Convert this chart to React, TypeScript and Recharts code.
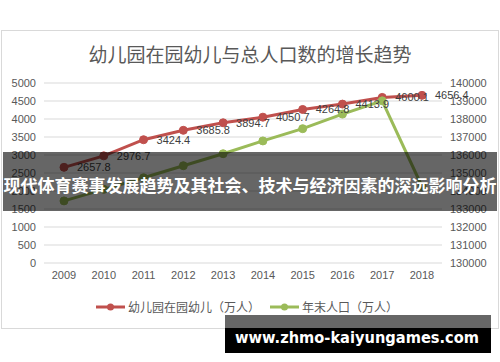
import React from 'react';
import { LineChart, Line, XAxis, YAxis, CartesianGrid, LabelList } from 'recharts';

const years = ['2009', '2010', '2011', '2012', '2013', '2014', '2015', '2016', '2017', '2018'];
const kindergarten = [2657.8, 2976.7, 3424.4, 3685.8, 3894.7, 4050.7, 4264.8, 4413.9, 4600.1, 4656.4];
const population = [133450, 134091, 134735, 135404, 136072, 136782, 137462, 138271, 139008, 134250];
const leftTicks = [0, 500, 1000, 1500, 2000, 2500, 3000, 3500, 4000, 4500, 5000];
const rightTicks = [130000, 131000, 132000, 133000, 134000, 135000, 136000, 137000, 138000, 139000, 140000];

const seriesNames = ['幼儿园在园幼儿（万人）', '年末人口（万人）'];
const seriesColors = ['#C0504D', '#9BBB59'];
const title = '幼儿园在园幼儿与总人口数的增长趋势';
const bannerText = '现代体育赛事发展趋势及其社会、技术与经济因素的深远影响分析';
const watermark = 'www.zhmo-kaiyungames.com';

const data = years.map((y, i) => ({ year: y, kg: kindergarten[i], pop: population[i] }));

const tickStyle = { fontSize: 11, fill: '#595959', fontFamily: '"Liberation Sans", Arial, sans-serif' };
const cjk = '"Noto Sans CJK SC", "Noto Sans", sans-serif';

const renderLabel = (props: any) => {
  const { x, y, value } = props;
  return (
    <text x={x + 13} y={y + 4} fontSize={11} fill="#404040" fontFamily='"Liberation Sans", Arial, sans-serif'>
      {Number(value).toFixed(1)}
    </text>
  );
};

const LegendMarker = ({ color }: { color: string }) => (
  <svg width={29} height={10} style={{ display: 'block' }}>
    <line x1={0} y1={5} x2={29} y2={5} stroke={color} strokeWidth={3} />
    <circle cx={14.5} cy={5} r={3.5} fill={color} />
  </svg>
);

export default function App() {
  return (
    <div style={{ position: 'absolute', left: 0, top: 0, width: 500, height: 362, background: '#fff', overflow: 'hidden' }}>
      <div
        style={{
          position: 'absolute', left: 1, top: 30, width: 498, height: 299,
          boxSizing: 'border-box', border: '1px solid #D9D9D9', background: '#fff',
        }}
      />
      <div
        style={{
          position: 'absolute', left: 0, top: 43.5, width: 500, textAlign: 'center',
          fontFamily: cjk, fontSize: 19, lineHeight: '19px', color: '#595959',
        }}
      >
        {title}
      </div>
      <div style={{ position: 'absolute', left: 0, top: 0 }}>
        <LineChart width={500} height={362} data={data} margin={{ top: 83, right: 0, bottom: 69, left: 0 }}>
          <CartesianGrid vertical={false} stroke="#D9D9D9" yAxisId="left" />
          <XAxis
            dataKey="year"
            axisLine={false}
            tickLine={false}
            interval={0}
            padding={{ left: 20, right: 20 }}
            tick={tickStyle}
            height={30}
          />
          <YAxis
            yAxisId="left"
            orientation="left"
            width={44}
            domain={[0, 5000]}
            ticks={leftTicks}
            axisLine={false}
            tickLine={false}
            tick={tickStyle}
            interval={0}
          />
          <YAxis
            yAxisId="right"
            orientation="right"
            width={58}
            domain={[130000, 140000]}
            ticks={rightTicks}
            axisLine={false}
            tickLine={false}
            tick={tickStyle}
            interval={0}
          />
          <Line
            yAxisId="left"
            type="linear"
            dataKey="kg"
            name={seriesNames[0]}
            stroke={seriesColors[0]}
            strokeWidth={3}
            dot={{ r: 4, fill: seriesColors[0], stroke: seriesColors[0], strokeWidth: 1 }}
            isAnimationActive={false}
          >
            <LabelList dataKey="kg" content={renderLabel} />
          </Line>
          <Line
            yAxisId="right"
            type="linear"
            dataKey="pop"
            name={seriesNames[1]}
            stroke={seriesColors[1]}
            strokeWidth={3}
            dot={{ r: 4, fill: seriesColors[1], stroke: seriesColors[1], strokeWidth: 1 }}
            isAnimationActive={false}
          />
        </LineChart>
      </div>
      <div
        style={{
          position: 'absolute', left: 96, top: 300, display: 'flex', alignItems: 'center',
          fontFamily: cjk, fontSize: 12, lineHeight: '14px', color: '#595959', whiteSpace: 'nowrap',
        }}
      >
        {seriesNames.map((n, i) => (
          <div key={n} style={{ display: 'flex', alignItems: 'center', marginRight: i === 0 ? 10 : 0 }}>
            <LegendMarker color={seriesColors[i]} />
            <span style={{ marginLeft: 3 }}>{n}</span>
          </div>
        ))}
      </div>
      <div
        style={{
          position: 'absolute', left: 3, top: 152, width: 494, height: 59,
          background: 'rgba(0,0,0,0.6)',
        }}
      />
      <div
        style={{
          position: 'absolute', left: 0, top: 176, width: 500, textAlign: 'center',
          fontFamily: cjk, fontSize: 17, lineHeight: '17px', fontWeight: 700, color: '#fff', whiteSpace: 'nowrap',
        }}
      >
        {bannerText}
      </div>
      <svg width={500} height={362} style={{ position: 'absolute', left: 0, top: 0 }}>
        <rect x={225} y={315} width={266} height={13} fill="#666666" />
        <rect x={225} y={328} width={266} height={25} fill="#000000" />
        <text
          x={235}
          y={343}
          fontSize={15}
          fontWeight={700}
          fill="#ffffff"
          fontFamily='"DejaVu Sans", Verdana, sans-serif'
          textLength={244}
          lengthAdjust="spacingAndGlyphs"
        >
          {watermark}
        </text>
      </svg>
    </div>
  );
}
